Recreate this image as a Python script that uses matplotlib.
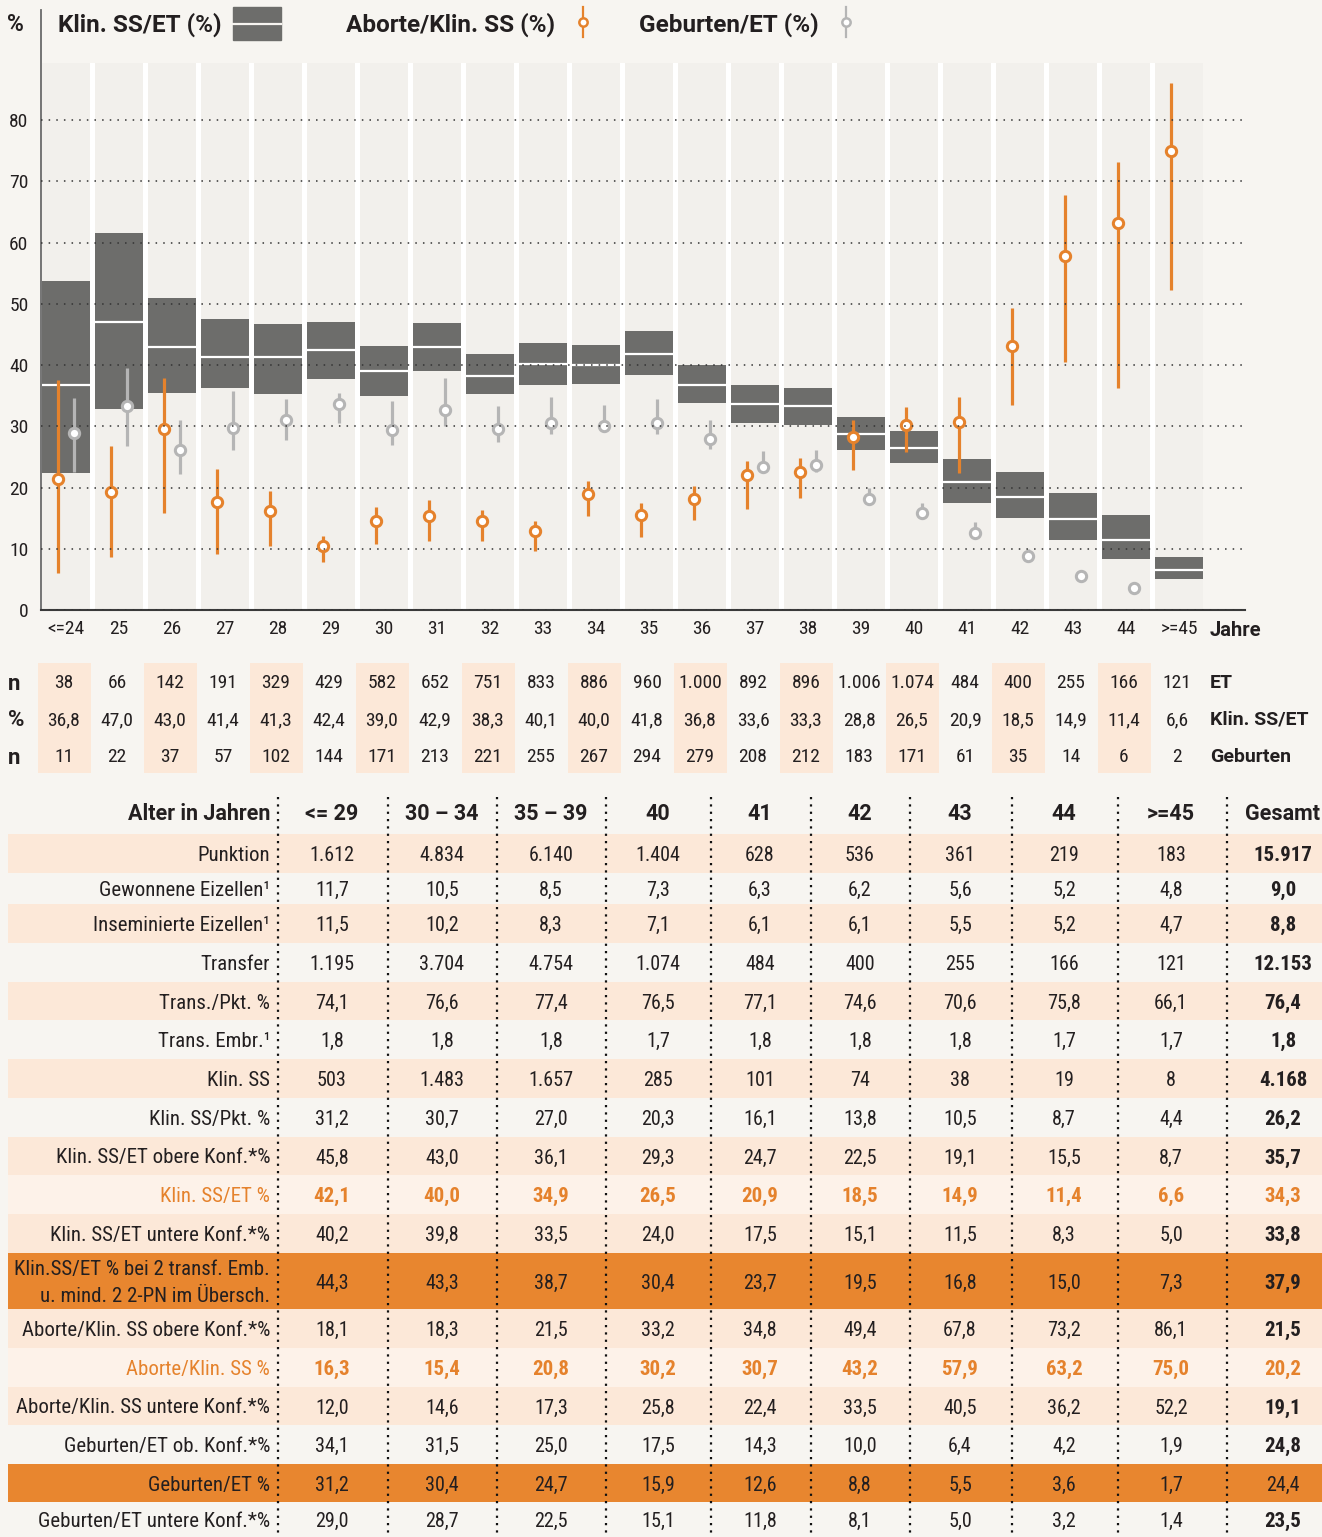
import matplotlib
matplotlib.use('Agg')
import matplotlib.pyplot as plt
from matplotlib import font_manager as fm
from matplotlib.patches import Rectangle
import numpy as np

# ---------------- fonts ----------------
avail = {f.name for f in fm.fontManager.ttflist}
FONT = 'DejaVu Sans'
for cand in ['Liberation Sans Narrow', 'Roboto Condensed', 'Open Sans Condensed', 'Liberation Sans']:
    if cand in avail:
        FONT = cand
        break
plt.rcParams['font.family'] = [FONT, 'DejaVu Sans']
BOLDF = ['Roboto', 'DejaVu Sans'] if 'Roboto' in avail else [FONT, 'DejaVu Sans']

# ---------------- data: chart ----------------
ages = ['<=24', '25', '26', '27', '28', '29', '30', '31', '32', '33', '34', '35',
        '36', '37', '38', '39', '40', '41', '42', '43', '44', '>=45']
et_n = [38, 66, 142, 191, 329, 429, 582, 652, 751, 833, 886, 960,
        1000, 892, 896, 1006, 1074, 484, 400, 255, 166, 121]
klin_pct = [36.8, 47.0, 43.0, 41.4, 41.3, 42.4, 39.0, 42.9, 38.3, 40.1, 40.0, 41.8,
            36.8, 33.6, 33.3, 28.8, 26.5, 20.9, 18.5, 14.9, 11.4, 6.6]
geb_n = [11, 22, 37, 57, 102, 144, 171, 213, 221, 255, 267, 294,
         279, 208, 212, 183, 171, 61, 35, 14, 6, 2]
klin_lo = [22.4, 32.9, 35.5, 36.2, 35.3, 37.8, 35.0, 39.1, 35.3, 36.7, 36.9, 38.4,
           33.8, 30.6, 30.2, 26.1, 24.0, 17.5, 15.1, 11.5, 8.3, 5.0]
klin_hi = [53.8, 61.6, 51.0, 47.5, 46.7, 47.0, 43.1, 46.8, 41.8, 43.6, 43.3, 45.6,
           40.0, 36.8, 36.3, 31.5, 29.3, 24.7, 22.5, 19.1, 15.5, 8.7]
abort_pct = [21.4, 19.3, 29.5, 17.7, 16.2, 10.4, 14.5, 15.4, 14.6, 12.9, 18.9, 15.5,
             18.2, 22.0, 22.5, 28.3, 30.2, 30.7, 43.2, 57.9, 63.2, 75.0]
abort_lo = [6.0, 8.6, 15.9, 9.2, 10.5, 7.8, 10.7, 11.2, 11.2, 9.6, 15.3, 11.9,
            14.7, 16.5, 18.3, 22.9, 25.8, 22.4, 33.5, 40.5, 36.2, 52.2]
abort_hi = [37.6, 26.8, 37.9, 23.0, 19.5, 12.1, 16.9, 17.9, 16.4, 14.6, 21.0, 17.4,
            20.3, 24.3, 24.9, 31.0, 33.2, 34.8, 49.4, 67.8, 73.2, 86.1]
# Geburten/ET (>=45 not drawn in the chart)
geb_pct = [28.9, 33.3, 26.1, 29.8, 31.0, 33.6, 29.4, 32.7, 29.5, 30.6, 30.1, 30.6,
           27.9, 23.3, 23.7, 18.2, 15.9, 12.6, 8.8, 5.5, 3.6]
geb_lo = [22.6, 26.8, 22.2, 26.2, 27.8, 30.6, 27.0, 30.1, 27.5, 28.7, 29.0, 28.8,
          26.3, 22.5, 22.5, 17.4, 15.1, 11.8, 8.1, 5.0, 3.2]
geb_hi = [34.6, 39.6, 31.0, 35.7, 34.4, 35.5, 34.1, 37.9, 33.3, 34.8, 33.5, 34.4,
          31.0, 25.9, 26.1, 19.9, 17.5, 14.3, 10.0, 6.4, 4.2]
yticks = [0, 10, 20, 30, 40, 50, 60, 70, 80]

# ---------------- data: table ----------------
groups = ['<= 29', '30 – 34', '35 – 39', '40', '41', '42', '43', '44', '>=45', 'Gesamt']
row_labels = ['Punktion', 'Gewonnene Eizellen¹', 'Inseminierte Eizellen¹', 'Transfer',
              'Trans./Pkt. %', 'Trans. Embr.¹', 'Klin. SS', 'Klin. SS/Pkt. %',
              'Klin. SS/ET obere Konf.*%', 'Klin. SS/ET %', 'Klin. SS/ET untere Konf.*%',
              'Klin.SS/ET % bei 2 transf. Emb.\nu. mind. 2 2-PN im Übersch.',
              'Aborte/Klin. SS obere Konf.*%', 'Aborte/Klin. SS %',
              'Aborte/Klin. SS untere Konf.*%', 'Geburten/ET ob. Konf.*%',
              'Geburten/ET %', 'Geburten/ET untere Konf.*%']
punktion = [1612, 4834, 6140, 1404, 628, 536, 361, 219, 183, 15917]
gew_eiz = [11.7, 10.5, 8.5, 7.3, 6.3, 6.2, 5.6, 5.2, 4.8, 9.0]
insem_eiz = [11.5, 10.2, 8.3, 7.1, 6.1, 6.1, 5.5, 5.2, 4.7, 8.8]
transfer = [1195, 3704, 4754, 1074, 484, 400, 255, 166, 121, 12153]
trans_pkt = [74.1, 76.6, 77.4, 76.5, 77.1, 74.6, 70.6, 75.8, 66.1, 76.4]
trans_embr = [1.8, 1.8, 1.8, 1.7, 1.8, 1.8, 1.8, 1.7, 1.7, 1.8]
klin_ss = [503, 1483, 1657, 285, 101, 74, 38, 19, 8, 4168]
klin_ss_pkt = [31.2, 30.7, 27.0, 20.3, 16.1, 13.8, 10.5, 8.7, 4.4, 26.2]
klin_et_ob = [45.8, 43.0, 36.1, 29.3, 24.7, 22.5, 19.1, 15.5, 8.7, 35.7]
klin_et = [42.1, 40.0, 34.9, 26.5, 20.9, 18.5, 14.9, 11.4, 6.6, 34.3]
klin_et_un = [40.2, 39.8, 33.5, 24.0, 17.5, 15.1, 11.5, 8.3, 5.0, 33.8]
klin_et_2pn = [44.3, 43.3, 38.7, 30.4, 23.7, 19.5, 16.8, 15.0, 7.3, 37.9]
abort_ob = [18.1, 18.3, 21.5, 33.2, 34.8, 49.4, 67.8, 73.2, 86.1, 21.5]
abort_g = [16.3, 15.4, 20.8, 30.2, 30.7, 43.2, 57.9, 63.2, 75.0, 20.2]
abort_un = [12.0, 14.6, 17.3, 25.8, 22.4, 33.5, 40.5, 36.2, 52.2, 19.1]
geb_ob = [34.1, 31.5, 25.0, 17.5, 14.3, 10.0, 6.4, 4.2, 1.9, 24.8]
geb_g = [31.2, 30.4, 24.7, 15.9, 12.6, 8.8, 5.5, 3.6, 1.7, 24.4]
geb_un = [29.0, 28.7, 22.5, 15.1, 11.8, 8.1, 5.0, 3.2, 1.4, 23.5]
table_rows = [punktion, gew_eiz, insem_eiz, transfer, trans_pkt, trans_embr, klin_ss,
              klin_ss_pkt, klin_et_ob, klin_et, klin_et_un, klin_et_2pn, abort_ob,
              abort_g, abort_un, geb_ob, geb_g, geb_un]

# ---------------- style ----------------
W, H = 1322, 1537
BG = '#f7f5f1'
STRIPE = '#f2f0ec'
BOX = '#6d6d6b'
ORANGE = '#e5822c'
GRAY = '#b5b5b5'
PEACH = '#fce8d8'
LPEACH = '#fdf2e9'
ORBG = '#e8862f'
TXT = '#231f20'
VA = 'center_baseline'


def fint(v):
    return f'{v:,}'.replace(',', '.')


def fdec(v):
    return f'{v:.1f}'.replace('.', ',')


def fval(v):
    return fint(v) if isinstance(v, int) else fdec(v)


fig = plt.figure(figsize=(W / 100, H / 100), dpi=100, facecolor=BG)

# overlay axes in pixel coordinates
ov = fig.add_axes([0, 0, 1, 1])
ov.set_xlim(0, W)
ov.set_ylim(H, 0)
ov.axis('off')
ov.patch.set_alpha(0)

# ---------------- chart ----------------
ax = fig.add_axes([41 / W, (H - 610) / H, (1245 - 41) / W, 600 / H])
ax.patch.set_alpha(0)
x0, x1 = -0.472, 22.245
ax.set_xlim(x0, x1)
ax.set_ylim(0, 98)
x = np.arange(len(ages))
bw = 48 / 53
ax.bar(x0, 89.3, width=21.45 - x0, align='edge', color='white', zorder=0.5)
ax.bar(x, 89.3, width=bw, color=STRIPE, zorder=0.6)
ax.bar(x, np.array(klin_hi) - np.array(klin_lo), bottom=klin_lo, width=bw, color=BOX, zorder=1)
ax.hlines(klin_pct, x - bw / 2, x + bw / 2, color='white', lw=1.6, zorder=1.2)

off = 0.145
ax.vlines(x - off, abort_lo, abort_hi, color=ORANGE, lw=2.3, zorder=2)
ax.plot(x - off, abort_pct, 'o', ls='none', mfc='white', mec=ORANGE, ms=7.4, mew=2.2, zorder=2.1)
xg = x[:len(geb_pct)] + off
ax.vlines(xg, geb_lo, geb_hi, color=GRAY, lw=2.3, zorder=2)
ax.plot(xg, geb_pct, 'o', ls='none', mfc='white', mec=GRAY, ms=7.4, mew=2.2, zorder=2.1)

ax.set_yticks(yticks)
ax.set_yticklabels([str(t) for t in yticks])
ax.set_xticks(x)
ax.set_xticklabels(ages)
ax.tick_params(axis='y', length=0, labelsize=14, pad=9, labelcolor=TXT)
ax.tick_params(axis='x', length=0, labelsize=14, pad=7, labelcolor=TXT)
ax.grid(axis='y', color='#333333', lw=1.1, linestyle=(0, (1, 4)))
ax.set_axisbelow(False)
for s in ['top', 'right']:
    ax.spines[s].set_visible(False)
ax.spines['left'].set_color('#6a6a6a')
ax.spines['left'].set_linewidth(1.3)
ax.spines['bottom'].set_color('#3a3a3a')
ax.spines['bottom'].set_linewidth(1.5)

ov.text(1210, 628, 'Jahre', fontsize=14.5, fontweight='bold', family=BOLDF, color=TXT,
        ha='left', va=VA)

# ---------------- legend ----------------
LFS = 17.5
ov.text(7, 22, '%', fontsize=16.5, fontweight='bold', family=BOLDF, color=TXT, ha='left', va=VA)
ov.text(58, 22, 'Klin. SS/ET (%)', fontsize=LFS, fontweight='bold', family=BOLDF, color=TXT,
        ha='left', va=VA)
ov.add_patch(Rectangle((233, 7), 48, 33, color=BOX))
ov.plot([233, 281], [23.5, 23.5], color=BG, lw=1.6)
ov.text(346, 22, 'Aborte/Klin. SS (%)', fontsize=LFS, fontweight='bold', family=BOLDF, color=TXT,
        ha='left', va=VA)
ov.plot([583, 583], [7, 37], color=ORANGE, lw=1.6)
ov.plot([583], [22], 'o', mfc='white', mec=ORANGE, ms=6, mew=1.8)
ov.text(639, 22, 'Geburten/ET (%)', fontsize=LFS, fontweight='bold', family=BOLDF, color=TXT,
        ha='left', va=VA)
ov.plot([846, 846], [7, 37], color=GRAY, lw=1.6)
ov.plot([846], [22], 'o', mfc='white', mec=GRAY, ms=6, mew=1.8)

# ---------------- n table ----------------
cx = [64 + 53 * i for i in range(len(ages))]
for i, c in enumerate(cx):
    if i % 2 == 0:
        ov.add_patch(Rectangle((c - 26.5, 663), 53, 110, color=PEACH, lw=0))
nrows_y = [681, 718, 755]
for i, c in enumerate(cx):
    ov.text(c, nrows_y[0], fint(et_n[i]), fontsize=14, color=TXT, ha='center', va=VA)
    ov.text(c, nrows_y[1], fdec(klin_pct[i]), fontsize=14, color=TXT, ha='center', va=VA)
    ov.text(c, nrows_y[2], fint(geb_n[i]), fontsize=14, color=TXT, ha='center', va=VA)
for y, lab in zip(nrows_y, ['n', '%', 'n']):
    ov.text(8, y, lab, fontsize=16, fontweight='bold', family=BOLDF, color=TXT, ha='left', va=VA)
for y, lab in zip(nrows_y, ['ET', 'Klin. SS/ET', 'Geburten']):
    ov.text(1210, y, lab, fontsize=14, fontweight='bold', family=BOLDF, color=TXT, ha='left', va=VA)

# ---------------- bottom table ----------------
col_x = [332, 442, 551, 658, 760, 860, 960, 1064, 1171, 1283]
seps = [278, 388, 497, 606, 711, 811, 910, 1012, 1118, 1227]
row_top = [834, 873, 904, 943, 982, 1020, 1059, 1098, 1137, 1175, 1214, 1253,
           1309, 1348, 1387, 1425, 1464, 1502, 1537]
row_bg = [PEACH, None, PEACH, None, PEACH, None, PEACH, None, PEACH, LPEACH, PEACH,
          ORBG, PEACH, LPEACH, PEACH, None, ORBG, None]
orange_rows = {9, 13}
RFS = 15

ov.text(270, 812, 'Alter in Jahren', fontsize=15.5, fontweight='bold', family=BOLDF, color=TXT,
        ha='right', va=VA)
for cxx, g in zip(col_x, groups):
    ov.text(cxx, 812, g, fontsize=15.5, fontweight='bold', family=BOLDF, color=TXT,
            ha='center', va=VA)

for r, vals in enumerate(table_rows):
    top, bot = row_top[r], row_top[r + 1]
    yc = (top + bot) / 2
    if row_bg[r] is not None:
        ov.add_patch(Rectangle((8, top), W - 8, bot - top, color=row_bg[r], lw=0, zorder=0))
    is_or = r in orange_rows
    lc = ORANGE if is_or else TXT
    if '\n' in row_labels[r]:
        l1, l2 = row_labels[r].split('\n')
        ov.text(270, yc - 13.5, l1, fontsize=RFS, color=lc, ha='right', va=VA)
        ov.text(270, yc + 13.5, l2, fontsize=RFS, color=lc, ha='right', va=VA)
    else:
        ov.text(270, yc, row_labels[r], fontsize=RFS, color=lc, ha='right', va=VA)
    for j, v in enumerate(vals):
        gesamt = j == len(vals) - 1
        bold = is_or or (gesamt and r != 16)
        ov.text(col_x[j], yc, fval(v), fontsize=15 if bold else 14.5, color=lc,
                fontweight='bold' if bold else 'normal', ha='center', va=VA)

ov.vlines(seps, 797, H, color='#111111', lw=1.6, linestyles=[(0, (1, 2.3))], zorder=3)

fig.savefig('out.png', dpi=100, facecolor=BG)
